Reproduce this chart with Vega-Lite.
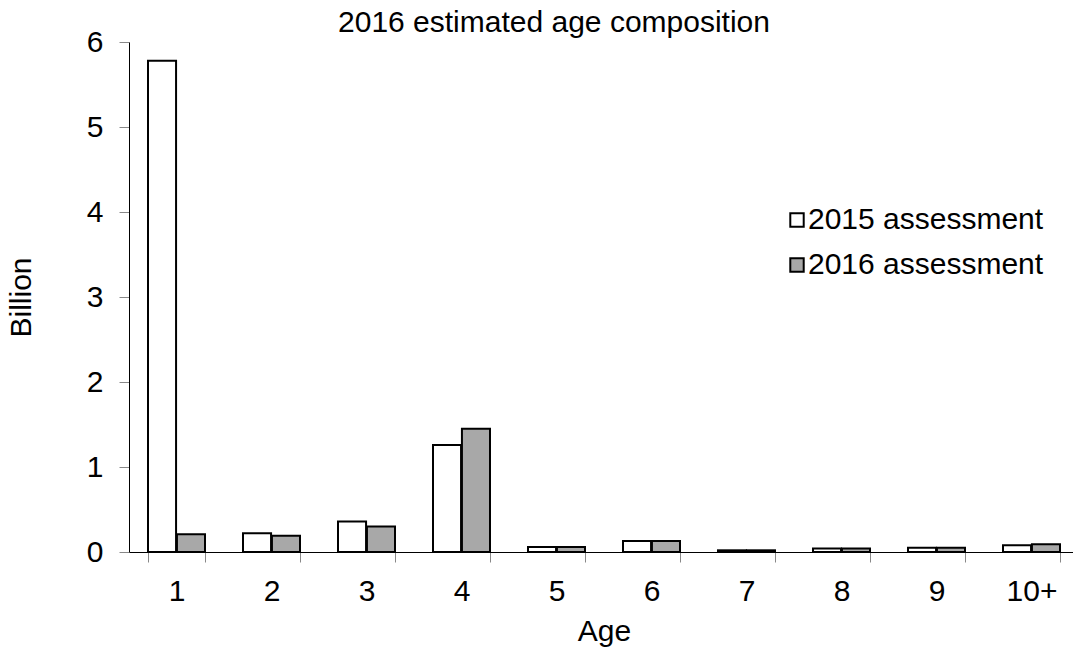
{
  "$schema": "https://vega.github.io/schema/vega-lite/v6.json",
  "autosize": "none",
  "padding": {"left": 129, "top": 42, "right": 0, "bottom": 115},
  "width": 950,
  "height": 510,
  "background": "white",
  "config": {"font": "Liberation Sans", "view": {"stroke": null}},
  "title": {"text": "2016 estimated age composition", "fontSize": 30, "fontWeight": "normal", "color": "black", "offset": -11, "dx": -50},
  "data": {"values": [
    {"age": "1", "series": "2015 assessment", "value": 5.78},
    {"age": "1", "series": "2016 assessment", "value": 0.21},
    {"age": "2", "series": "2015 assessment", "value": 0.22},
    {"age": "2", "series": "2016 assessment", "value": 0.19},
    {"age": "3", "series": "2015 assessment", "value": 0.36},
    {"age": "3", "series": "2016 assessment", "value": 0.30},
    {"age": "4", "series": "2015 assessment", "value": 1.26},
    {"age": "4", "series": "2016 assessment", "value": 1.45},
    {"age": "5", "series": "2015 assessment", "value": 0.06},
    {"age": "5", "series": "2016 assessment", "value": 0.06},
    {"age": "6", "series": "2015 assessment", "value": 0.13},
    {"age": "6", "series": "2016 assessment", "value": 0.13},
    {"age": "7", "series": "2015 assessment", "value": 0.02},
    {"age": "7", "series": "2016 assessment", "value": 0.02},
    {"age": "8", "series": "2015 assessment", "value": 0.04},
    {"age": "8", "series": "2016 assessment", "value": 0.04},
    {"age": "9", "series": "2015 assessment", "value": 0.05},
    {"age": "9", "series": "2016 assessment", "value": 0.05},
    {"age": "10+", "series": "2015 assessment", "value": 0.08},
    {"age": "10+", "series": "2016 assessment", "value": 0.09}
  ]},
  "mark": {"type": "bar", "stroke": "black", "strokeWidth": 2, "strokeJoin": "miter"},
  "encoding": {
    "x": {
      "field": "age", "type": "nominal", "sort": null,
      "scale": {"paddingInner": 0.4, "paddingOuter": 0.2},
      "axis": {
        "title": "Age", "titleFontSize": 30, "titleFontWeight": "normal", "titleColor": "black", "titlePadding": 10,
        "labelAngle": 0, "labelFontSize": 30, "labelColor": "black", "labelPadding": 14,
        "domainColor": "black", "domainWidth": 1,
        "tickBand": "extent", "tickColor": "#888888", "tickSize": 10, "grid": false
      }
    },
    "xOffset": {"field": "series", "type": "nominal", "scale": {"paddingInner": 0.03, "paddingOuter": 0}},
    "y": {
      "field": "value", "type": "quantitative",
      "scale": {"domain": [0, 6], "nice": false},
      "axis": {
        "title": "Billion", "titleFontSize": 30, "titleFontWeight": "normal", "titleColor": "black", "titlePadding": 50,
        "values": [0, 1, 2, 3, 4, 5, 6],
        "labelFontSize": 30, "labelColor": "black", "labelPadding": 16,
        "domainColor": "black", "domainWidth": 1,
        "tickColor": "#888888", "tickSize": 10, "grid": false
      }
    },
    "fill": {
      "field": "series", "type": "nominal",
      "scale": {"domain": ["2015 assessment", "2016 assessment"], "range": ["white", "#a8a8a8"]},
      "legend": {
        "title": null, "orient": "none", "legendX": 653, "legendY": 163,
        "symbolType": "square", "symbolSize": 180, "symbolStrokeColor": "black", "symbolStrokeWidth": 2,
        "labelFontSize": 30, "labelColor": "black", "labelOffset": -4, "labelLimit": 400, "rowPadding": 15
      }
    }
  }
}
